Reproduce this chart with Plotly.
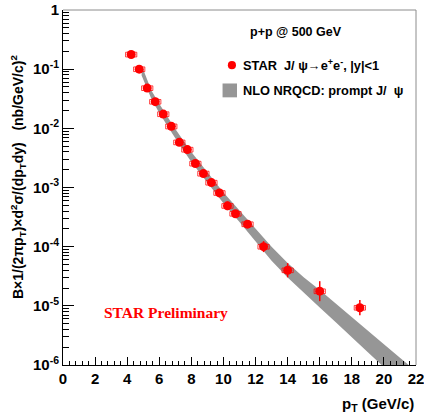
import plotly.graph_objects as go

# ---- data ----
pt = [4.25, 4.75, 5.25, 5.75, 6.25, 6.75, 7.25, 7.75, 8.25, 8.75, 9.25, 9.75,
      10.25, 10.75, 11.5, 12.5, 14.0, 16.0, 18.5]
xsec = [0.177, 0.100, 0.0479, 0.0282, 0.0174, 0.0108, 0.0058, 0.00437, 0.00254,
        0.00172, 0.00121, 8.1e-4, 4.9e-4, 3.6e-4, 2.4e-4, 1.0e-4, 4.0e-5, 1.77e-5, 9.3e-6]
stat_up = [0.015, 0.008, 0.004, 0.0024, 0.0015, 0.0009, 0.0006, 0.0004, 0.00025,
           0.00017, 0.00013, 0.0001, 0.9e-4, 0.55e-4, 0.35e-4, 0.24e-4, 1.27e-5, 0.84e-5, 3.2e-6]
stat_dn = [0.013, 0.007, 0.0035, 0.0021, 0.0013, 0.0008, 0.0005, 0.00035, 0.00022,
           0.00015, 0.00011, 0.00009, 0.76e-4, 0.49e-4, 0.3e-4, 0.19e-4, 0.97e-5, 0.57e-5, 2.4e-6]
sys_err = [0.016, 0.009, 0.0043, 0.0025, 0.0016, 0.001, 0.00052, 0.0004, 0.00023,
           0.00016, 0.00011, 0.000073, 0.000044, 0.000032, 0.000022, 0.000009, 3.6e-6, 1.6e-6, 8.4e-7]
sys_halfwidth = 0.35

band_pt = [4.9, 5.5, 6, 7, 8, 9, 10, 11, 12, 13, 14, 15, 16, 17, 18, 19, 20, 21, 22]
band_lo = [0.078, 0.032, 0.0182, 0.0068, 0.0027, 0.00118, 5.4e-4, 2.6e-4, 1.2e-4,
           5.8e-5, 3.0e-5, 1.65e-5, 9.4e-6, 5.3e-6, 3.0e-6, 1.65e-6, 9.2e-7, 5.1e-7, 2.9e-7]
band_hi = [0.117, 0.044, 0.026, 0.0097, 0.0040, 0.00178, 8.2e-4, 4.1e-4, 2.0e-4,
           1.0e-4, 5.3e-5, 3.05e-5, 1.85e-5, 1.1e-5, 6.5e-6, 3.8e-6, 2.25e-6, 1.32e-6, 7.9e-7]

ytick_vals = [1e-6, 1e-5, 1e-4, 1e-3, 1e-2, 1e-1, 1]
ytick_text = ["10<sup>-6</sup>", "10<sup>-5</sup>", "10<sup>-4</sup>", "10<sup>-3</sup>",
              "10<sup>-2</sup>", "10<sup>-1</sup>", "1"]
xtick_vals = list(range(0, 23, 2))

RED = "#ff0000"
GREY = "#969696"
FONT = "Liberation Sans"

fig = go.Figure()

# theory band
fig.add_trace(go.Scatter(x=band_pt, y=band_lo, mode="lines", line=dict(width=0, color=GREY),
                         hoverinfo="skip", showlegend=False))
fig.add_trace(go.Scatter(x=band_pt, y=band_hi, mode="lines", line=dict(width=0, color=GREY),
                         fill="tonexty", fillcolor=GREY, hoverinfo="skip", showlegend=False))

# systematic boxes
bx, by = [], []
for x, y, s in zip(pt, xsec, sys_err):
    bx += [x - sys_halfwidth, x + sys_halfwidth, x + sys_halfwidth, x - sys_halfwidth, x - sys_halfwidth, None]
    by += [y - s, y - s, y + s, y + s, y - s, None]
fig.add_trace(go.Scatter(x=bx, y=by, mode="lines", line=dict(color="rgba(255,0,0,0.75)", width=1),
                         hoverinfo="skip", showlegend=False))

# data points
fig.add_trace(go.Scatter(x=pt, y=xsec, mode="markers",
                         marker=dict(color=RED, size=9, line=dict(width=0)),
                         error_y=dict(type="data", symmetric=False, array=stat_up, arrayminus=stat_dn,
                                      color=RED, thickness=1.5, width=0),
                         showlegend=False))

fig.update_layout(
    width=424, height=414,
    margin=dict(l=63, r=7.5, t=9.5, b=49),
    paper_bgcolor="white", plot_bgcolor="white",
    showlegend=False,
    font=dict(family=FONT, color="black"),
    xaxis=dict(range=[0, 22], tickvals=xtick_vals, ticks="inside", ticklen=8, tickwidth=1,
               tickcolor="black", showline=True, linecolor="black", linewidth=1,
               showgrid=False, zeroline=False, automargin=False, ticklabeloverflow="allow",
               tickfont=dict(family=FONT, size=15, weight="bold", color="black"),
               minor=dict(ticks="inside", ticklen=4, dtick=0.4, tickcolor="black", showgrid=False)),
    yaxis=dict(type="log", range=[-6, 0], tickvals=ytick_vals, ticktext=ytick_text,
               ticks="inside", ticklen=11, tickwidth=1, tickcolor="black",
               showline=True, linecolor="black", linewidth=1, showgrid=False, zeroline=False,
               automargin=False, ticklabeloverflow="allow",
               tickfont=dict(family=FONT, size=15, weight="bold", color="black"),
               minor=dict(ticks="inside", ticklen=6, tickcolor="black", showgrid=False,
                          dtick="D1")),
)

# thin frame on top and right
fig.add_shape(type="line", xref="paper", yref="paper", x0=0, x1=1, y0=1, y1=1,
              line=dict(color="#8c8c8c", width=1))
fig.add_shape(type="line", xref="paper", yref="paper", x0=1, x1=1, y0=0, y1=1,
              line=dict(color="#8c8c8c", width=1))

# axis titles
fig.add_annotation(text="<b>p<sub>T</sub> (GeV/c)</b>", xref="paper", yref="paper",
                   x=1.0, y=-0.08, xanchor="right", yanchor="top", showarrow=False,
                   font=dict(family=FONT, size=15, color="black"))
fig.add_annotation(text="<b>B×1/(2πp<sub>T</sub>)×d<sup>2</sup>σ/(dp<sub>T</sub>dy)   (nb/GeV/c)<sup>2</sup></b>",
                   xref="paper", yref="paper", x=-0.127, y=0.53, xanchor="center", yanchor="middle",
                   textangle=-90, showarrow=False, font=dict(family=FONT, size=14, color="black"))

# header text
fig.add_annotation(text="<b>p+p @ 500 GeV</b>", xref="paper", yref="paper", x=0.523, y=0.937,
                   xanchor="left", yanchor="middle", showarrow=False,
                   font=dict(family=FONT, size=12.5, color="black"))

# legend
fig.add_shape(type="circle", xref="paper", yref="paper", x0=0.467, x1=0.49, y0=0.833, y1=0.856,
              fillcolor=RED, line=dict(width=0))
fig.add_annotation(text="<b>STAR  J/ ψ→e<sup>+</sup>e<sup>-</sup>, |y|&lt;1</b>", xref="paper", yref="paper",
                   x=0.503, y=0.844, xanchor="left", yanchor="middle", showarrow=False,
                   font=dict(family=FONT, size=12.8, color="black"))
fig.add_shape(type="rect", xref="paper", yref="paper", x0=0.452, x1=0.493, y0=0.754, y1=0.793,
              fillcolor=GREY, line=dict(width=0))
fig.add_annotation(text="<b>NLO NRQCD: prompt J/  ψ</b>", xref="paper", yref="paper",
                   x=0.503, y=0.773, xanchor="left", yanchor="middle", showarrow=False,
                   font=dict(family=FONT, size=12.8, color="black"))

fig.add_annotation(text="<b>STAR Preliminary</b>", xref="paper", yref="paper", x=0.291, y=0.149,
                   xanchor="center", yanchor="middle", showarrow=False,
                   font=dict(family="Liberation Serif", size=15.5, color=RED))

# remove the default page margin so the figure sits at the window's corner
fig.write_html("out.html", config={"displayModeBar": False},
               post_script="document.body.style.margin='0';")
